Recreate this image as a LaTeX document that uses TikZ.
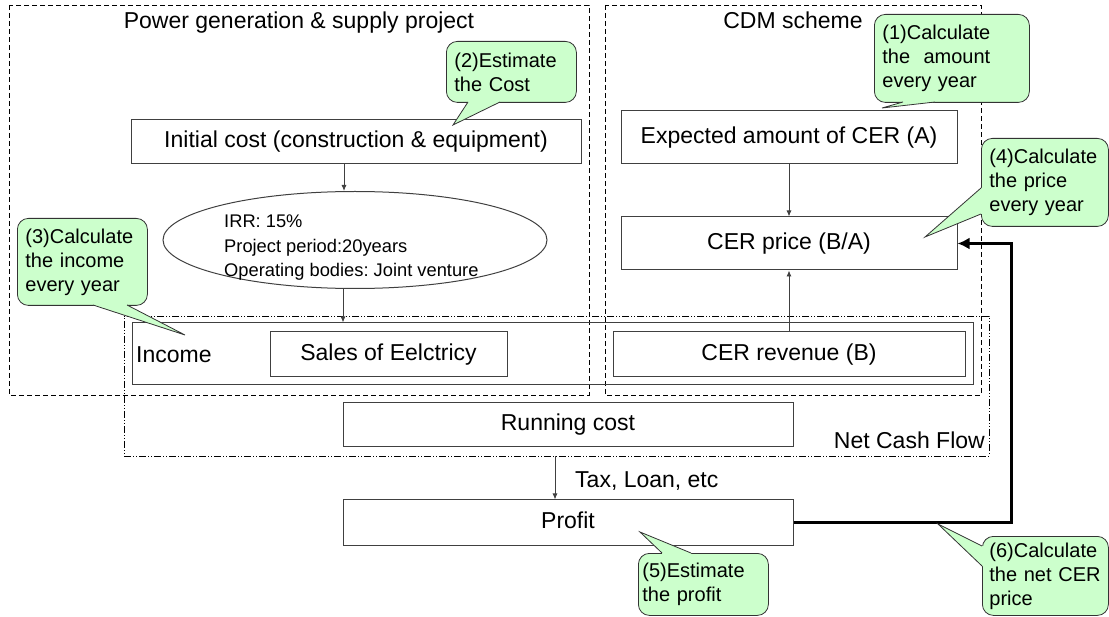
\documentclass[tikz,border=0pt]{standalone}
\usepackage{fontspec}
\setmainfont{Liberation Sans}
\usetikzlibrary{shapes.geometric,arrows.meta}
\frenchspacing

\definecolor{notegreen}{RGB}{204,255,204}
\newcommand{\mainsize}{\fontsize{23}{27}\selectfont}
\newcommand{\notesize}{\fontsize{20}{24}\selectfont}
\newcommand{\irrsize}{\fontsize{18.3}{24.5}\selectfont}

\tikzset{
  stagebox/.style={draw=black!75,line width=1pt,minimum height=44pt,inner sep=0pt,text height=17pt,text depth=5pt,font=\mainsize},
  zoneframe/.style={line width=0.8pt,dash pattern=on 5pt off 3pt},
  cashframe/.style={draw,line width=0.8pt,dash pattern=on 7pt off 2pt on 1pt off 2pt on 1pt off 2pt,minimum width=865pt,minimum height=140pt,inner sep=0pt},
  flow/.style={draw=black!75,line width=0.9pt,-{Latex[length=6pt,width=5pt]}},
  feedback/.style={line width=3pt,-{Latex[length=12pt,width=12pt]}},
  note/.style={draw=black!80,fill=notegreen,line width=0.8pt,rounded corners=11pt,anchor=north west,align=left,inner xsep=8pt,inner ysep=0pt,font=\notesize},
  notetip/.style={draw=black!80,line width=0.8pt},
}

\begin{document}
\begin{tikzpicture}[x=1pt,y=-1pt]
\useasboundingbox (0,0) rectangle (1109,617);
% project and CDM frames
\draw[zoneframe] (9,5) rectangle (589,395);
\draw[zoneframe] (605,5) rectangle (981,395);
\node[cashframe] (ncf) at (556.5,386) {};
\node[font=\mainsize,anchor=base] (pgtitle) at (299,29) {Power generation \& supply project};
\node[font=\mainsize,anchor=base] (cdmtitle) at (793,29) {CDM scheme};
\node[font=\mainsize,anchor=base east,inner sep=0pt] (ncftitle) at (985,449) {Net Cash Flow};

% boxes
\node[stagebox,minimum width=450pt] (init) at (356,142) {Initial cost (construction \& equipment)};
\node[draw=black!75,line width=1pt,ellipse,minimum width=384pt,minimum height=97pt,inner sep=0pt] (irr) at (355,240) {};
\node[align=left,font=\irrsize,anchor=base west,inner sep=0pt] (irrtext) at (224,277) {IRR: 15\%\\Project period:20years\\Operating bodies: Joint venture};
\node[stagebox,minimum width=841pt,minimum height=62pt] (income) at (552.5,354) {};
\node[font=\mainsize,anchor=base west,inner sep=0pt] (inclabel) at (136,363) {Income};
\node[stagebox,minimum width=237pt,minimum height=45pt] (sales) at (388.5,354.5) {Sales of Eelctricy};
\node[stagebox,minimum width=352pt,minimum height=45pt] (rev) at (789,354.5) {CER revenue (B)};
\node[stagebox,minimum width=336pt,minimum height=53pt] (amount) at (789,137.5) {Expected amount of CER (A)};
\node[stagebox,minimum width=336pt,minimum height=53pt] (price) at (789,243.5) {CER price (B/A)};
\node[stagebox,minimum width=450pt] (run) at (568,425) {Running cost};
\node[stagebox,minimum width=450pt,minimum height=45pt] (profit) at (568,522.5) {Profit};
\node[font=\mainsize,anchor=base west,inner sep=0pt] (tax) at (575,487) {Tax, Loan, etc};

% arrows
\draw[flow] ([xshift=-12pt]init.south) -- ([xshift=-12pt]init.south |- irr.north);
\draw[flow] ([xshift=-12pt]irr.south) -- ([xshift=-12pt]irr.south |- income.north);
\draw[flow] (amount) -- (price);
\draw[flow] (rev) -- (price);
\draw[flow] ([xshift=-13pt]profit.north |- ncf.south) -- ([xshift=-13pt]profit.north);
\draw[feedback] (profit.east) -- ++(218,0) |- (price.east);

% callouts
\node[note,text width=139pt,minimum height=88pt] (n1) at (874,14) {(1)Calculate\\the\ \ amount\\every year};
\fill[notegreen] (903,98) -- (903,102) -- (882,108) -- (935,102) -- (935,98) -- cycle;
\draw[notetip] (903,102) -- (882,108) -- (935,102);

\node[note,text width=114pt,minimum height=61pt] (n2) at (446,41) {(2)Estimate\\the Cost};
\fill[notegreen] (468,98) -- (468,102) -- (453,125) -- (500,102) -- (500,98) -- cycle;
\draw[notetip] (468,102) -- (453,125) -- (500,102);

\node[note,text width=114pt,minimum height=87pt] (n3) at (17,218) {(3)Calculate\\the income\\every year};
\fill[notegreen] (93,301) -- (93,305) -- (185,335) -- (127,305) -- (127,301) -- cycle;
\draw[notetip] (93,305) -- (185,335) -- (127,305);

\node[note,text width=111pt,minimum height=88pt] (n4) at (981,138) {(4)Calculate\\the price\\every year};
\fill[notegreen] (985,188) -- (981,188) -- (925,237) -- (981,214) -- (985,214) -- cycle;
\draw[notetip] (981,188) -- (925,237) -- (981,214);

\node[note,text width=122pt,minimum height=62pt,inner xsep=4pt] (n5) at (638,553) {(5)Estimate\\the profit};
\fill[notegreen] (662,557) -- (662,553) -- (640,532) -- (691,553) -- (691,557) -- cycle;
\draw[notetip] (662,553) -- (640,532) -- (691,553);

\node[note,text width=112pt,minimum height=79pt,inner xsep=7pt] (n6) at (982,536) {(6)Calculate\\the net CER\\price};
\fill[notegreen] (986,546) -- (982,546) -- (938,524) -- (982,566) -- (986,566) -- cycle;
\draw[notetip] (982,546) -- (938,524) -- (982,566);
\end{tikzpicture}
\end{document}
